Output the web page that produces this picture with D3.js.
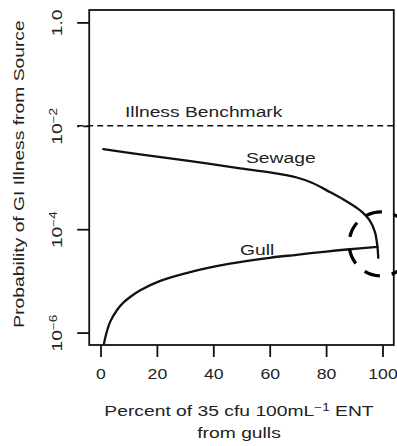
<!DOCTYPE html>
<html>
<head>
<meta charset="utf-8">
<script src="https://cdn.jsdelivr.net/npm/d3@7"></script>
<style>
  html, body { margin: 0; padding: 0; background: #fff; }
  svg { display: block; }
  text { font-family: "Liberation Sans", Arial, sans-serif; fill: #222; }
</style>
</head>
<body>
<svg id="chart" width="397" height="446"></svg>
<script>
// Percent of the 35 cfu/100 mL ENT load contributed by gulls
const sewagePct  = [1, 14, 30, 49.5, 60, 69.6, 75, 81.3, 86, 90.8, 93, 95.4, 97.3, 98.2, 98.5];
// Probability of GI illness from the sewage fraction
const sewageRisk = [3.55e-3, 2.8e-3, 2.15e-3, 1.5e-3, 1.26e-3, 1.0e-3, 7.9e-4, 5.25e-4, 3.8e-4, 2.6e-4, 2.1e-4, 1.5e-4, 8.9e-5, 4.6e-5, 2.8e-5];

const gullPct  = [0.9, 1.5, 3.5, 6, 8.1, 11, 14.1, 21.2, 31.8, 45.9, 60, 69.6, 80, 87.3, 98.2];
// Probability of GI illness from the gull fraction
const gullRisk = [4.3e-7, 7.2e-7, 1.65e-6, 2.8e-6, 3.8e-6, 5.1e-6, 6.6e-6, 1.0e-5, 1.48e-5, 2.15e-5, 2.8e-5, 3.2e-5, 3.7e-5, 4.05e-5, 4.55e-5];

const benchmark = 1e-2;
const xTicks = [0, 20, 40, 60, 80, 100];
const yTicks = [1, 1e-2, 1e-4, 1e-6];
const yTickLabels = [["1.0", null], ["10", "-2"], ["10", "-4"], ["10", "-6"]];
const highlight = { pct: 99.5, risk: 5.2e-5 };

const SX = 1.33;   // horizontal glyph stretch of the plotting font
const FS = 14.5;

const svg = d3.select("#chart");

const x = d3.scaleLinear().domain([0, 100]).range([100.5, 382.5]);
const y = d3.scaleLog().domain([Math.pow(10, -6.24), Math.pow(10, 0.24)]).range([345, 10]);

const plotLeft = x(-4), plotRight = x(104), plotTop = y.range()[1], plotBottom = y.range()[0];

svg.append("defs").append("clipPath").attr("id", "plotClip")
  .append("rect").attr("x", plotLeft).attr("y", plotTop)
  .attr("width", plotRight - plotLeft).attr("height", plotBottom - plotTop);

// stretched text helper; parts marked sup are raised and reduced
function label(g, px, py, rot, anchor, parts, size = FS, sx = SX) {
  const t = g.append("text")
    .attr("transform", `translate(${px},${py}) rotate(${rot}) scale(${sx},1)`)
    .attr("text-anchor", anchor)
    .style("font-size", size + "px");
  const rise = 0.33 * size;
  let raised = false;
  parts.forEach(p => {
    const ts = t.append("tspan").text(p.t);
    if (p.sup) {
      ts.attr("dy", -rise).style("font-size", (0.7 * size) + "px");
      raised = true;
    } else if (raised) {
      ts.attr("dy", rise);
      raised = false;
    }
  });
  return t;
}

// x axis
const xAxis = svg.append("g")
  .attr("transform", `translate(0,${plotBottom})`)
  .call(d3.axisBottom(x).tickValues(xTicks).tickSize(12).tickFormat(d3.format("d")));
xAxis.select(".domain").remove();
xAxis.selectAll(".tick line").attr("stroke", "#111").attr("stroke-width", 1.8);
xAxis.selectAll(".tick text")
  .attr("y", 34.5).attr("dy", 0)
  .attr("transform", "scale(1.26,1)")
  .style("font-size", "14px")
  .style("font-family", "'Liberation Sans', Arial, sans-serif")
  .attr("fill", "#222");

// y axis
const yAxis = svg.append("g")
  .attr("transform", `translate(${plotLeft},0)`)
  .call(d3.axisLeft(y).tickValues(yTicks).tickSize(12).tickFormat(""));
yAxis.select(".domain").remove();
yAxis.selectAll(".tick line").attr("stroke", "#111").attr("stroke-width", 1.8)
  .attr("stroke-dasharray", d => d === benchmark ? "6 4" : null);
yAxis.selectAll(".tick text").remove();
yAxis.selectAll(".tick").each(function(d, i) {
  const [base, sup] = yTickLabels[i];
  const parts = [{ t: base }];
  if (sup) parts.push({ t: sup.replace("-", "\u2212"), sup: true });
  label(d3.select(this), -27, 0, -90, "middle", parts);
});

// benchmark line
svg.append("line")
  .attr("x1", plotLeft - 12).attr("x2", 397)
  .attr("y1", y(benchmark)).attr("y2", y(benchmark))
  .attr("stroke", "#111").attr("stroke-width", 1.5)
  .attr("stroke-dasharray", "6 4");

// curves
const line = d3.line().x(d => x(d[0])).y(d => y(d[1])).curve(d3.curveCatmullRom.alpha(0.5));
const plot = svg.append("g").attr("clip-path", "url(#plotClip)");
plot.append("path")
  .datum(d3.zip(sewagePct, sewageRisk))
  .attr("d", line).attr("fill", "none")
  .attr("stroke", "#111").attr("stroke-width", 2.3).attr("stroke-linecap", "round");
plot.append("path")
  .datum(d3.zip(gullPct, gullRisk))
  .attr("d", line).attr("fill", "none")
  .attr("stroke", "#111").attr("stroke-width", 2.3).attr("stroke-linecap", "round");

// plot frame
svg.append("rect")
  .attr("x", plotLeft).attr("y", plotTop)
  .attr("width", plotRight - plotLeft).attr("height", plotBottom - plotTop)
  .attr("fill", "none").attr("stroke", "#111").attr("stroke-width", 1.8);

// in-plot labels
label(svg, 125, 117, 0, "start", [{ t: "Illness Benchmark" }]);
label(svg, 246, 163, 0, "start", [{ t: "Sewage" }]);
label(svg, 240, 255, 0, "start", [{ t: "Gull" }]);

// axis titles
label(svg, 24, 174, -90, "middle", [{ t: "Probability of GI Illness from Source" }]);
label(svg, 239, 416, 0, "middle", [{ t: "Percent of 35 cfu 100mL" }, { t: "\u22121", sup: true }, { t: " ENT" }]);
label(svg, 239, 438, 0, "middle", [{ t: "from gulls" }]);

// dashed circle around the crossover point
svg.append("circle")
  .attr("cx", x(highlight.pct)).attr("cy", y(highlight.risk)).attr("r", 32)
  .attr("fill", "none").attr("stroke", "#000").attr("stroke-width", 3.3)
  .attr("stroke-dasharray", "16 12").attr("stroke-dashoffset", 4.6);
</script>
</body>
</html>
